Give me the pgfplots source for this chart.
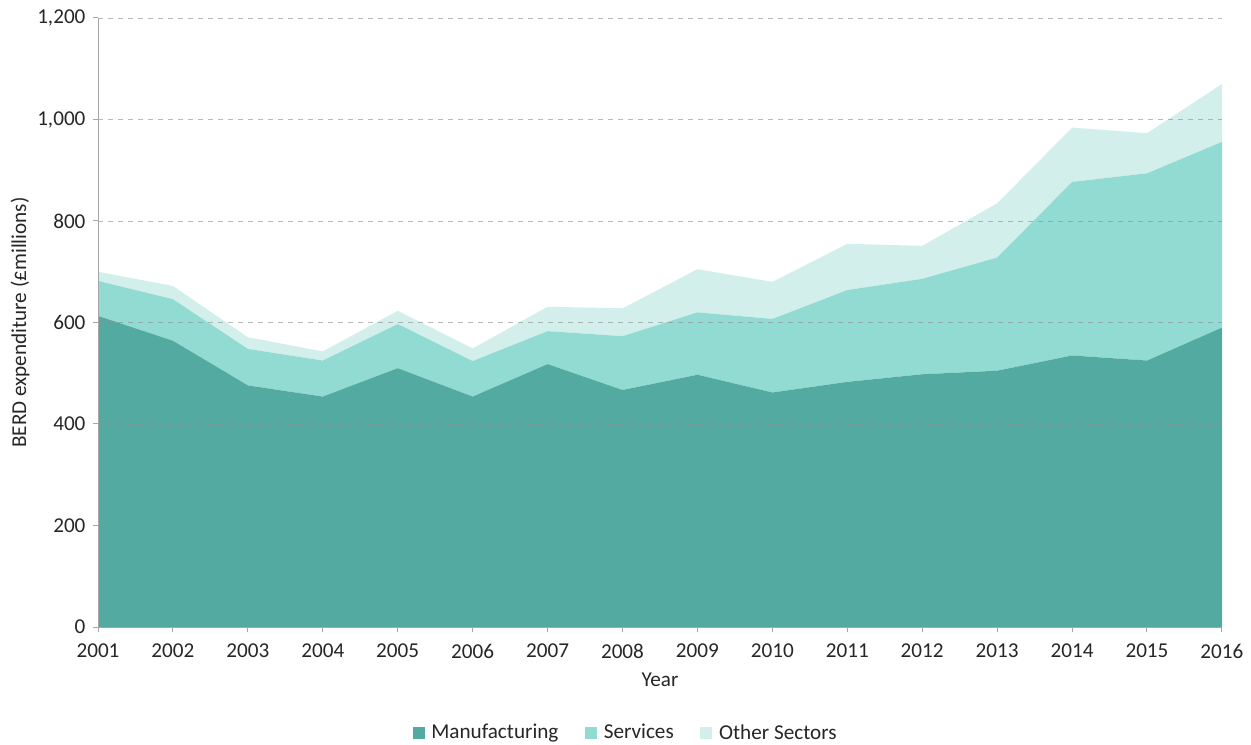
\documentclass[border=0pt]{standalone}
\usepackage{pgfplots}
\pgfplotsset{compat=1.18}
\usepackage{fontspec}
\setmainfont{Carlito}
\definecolor{manuf}{HTML}{52AAA0}
\definecolor{serv}{HTML}{92DBD3}
\definecolor{other}{HTML}{D3EFEC}
\definecolor{txt}{HTML}{262626}
\begin{document}
\begin{tikzpicture}
\begin{axis}[
  name=ax,
  scale only axis,
  width=674.4pt, height=365.4pt,
  xmin=2001, xmax=2016, ymin=0, ymax=1200,
  xtick={2001,2002,...,2016},
  ytick={0,200,...,1200},
  axis x line*=bottom, axis y line*=left,
  axis line style={draw=black!35, line width=0.6pt},
  tick style={draw=black!35, line width=0.6pt},
  tick align=outside, major tick length=3pt,
  ymajorgrids, grid style={dashed, draw=black!45, line width=0.4pt, opacity=0.6},
  axis on top,
  stack plots=y,
  /pgf/number format/assume math mode=true,
  yticklabel style={/pgf/number format/1000 sep={,}, font=\fontsize{12.7}{15}\selectfont, text=txt, xshift=-1pt},
  xticklabel style={/pgf/number format/1000 sep={}, font=\fontsize{12.7}{15}\selectfont, text=txt, yshift=-3.5pt},
  ylabel={BERD expenditure (£millions)},
  xlabel={Year},
  label style={font=\fontsize{12.7}{15}\selectfont, text=txt},
  ylabel style={at={(axis description cs:-0.0694,0.5)}, anchor=center},
  xlabel style={at={(axis description cs:0.5,-0.087)}, anchor=center},
  legend columns=3,
  legend style={draw=none, at={(0.47,-0.174)}, anchor=center, font=\fontsize{12.7}{15}\selectfont, text=txt,
    /tikz/every even column/.append style={column sep=14pt},
    /tikz/every odd column/.append style={column sep=2pt}},
  legend image code/.code={\fill[#1] (0pt,-3.6pt) rectangle (7.2pt,3.6pt);},
]
\addplot[fill=manuf, draw=none] coordinates {
(2001,613) (2002,564) (2003,476) (2004,454) (2005,510) (2006,454) (2007,518) (2008,467)
(2009,497) (2010,462) (2011,483) (2012,498) (2013,505) (2014,535) (2015,525) (2016,590)
} \closedcycle;
\addlegendentry{Manufacturing}
\addplot[fill=serv, draw=none] coordinates {
(2001,69) (2002,82) (2003,72) (2004,71) (2005,87) (2006,70) (2007,65) (2008,106)
(2009,123) (2010,145) (2011,181) (2012,188) (2013,223) (2014,342) (2015,369) (2016,366)
} \closedcycle;
\addlegendentry{Services}
\addplot[fill=other, draw=none] coordinates {
(2001,18) (2002,26) (2003,23) (2004,18) (2005,26) (2006,25) (2007,48) (2008,55)
(2009,85) (2010,73) (2011,91) (2012,65) (2013,107) (2014,107) (2015,79) (2016,114)
} \closedcycle;
\addlegendentry{Other Sectors}
\end{axis}
\path (ax.south west) ++(-58.8pt,-70.2pt) coordinate (bl);
\path (ax.north east) ++(17.4pt,10.8pt) coordinate (tr);
\pgfresetboundingbox
\useasboundingbox (bl) rectangle (tr);
\end{tikzpicture}
\end{document}
